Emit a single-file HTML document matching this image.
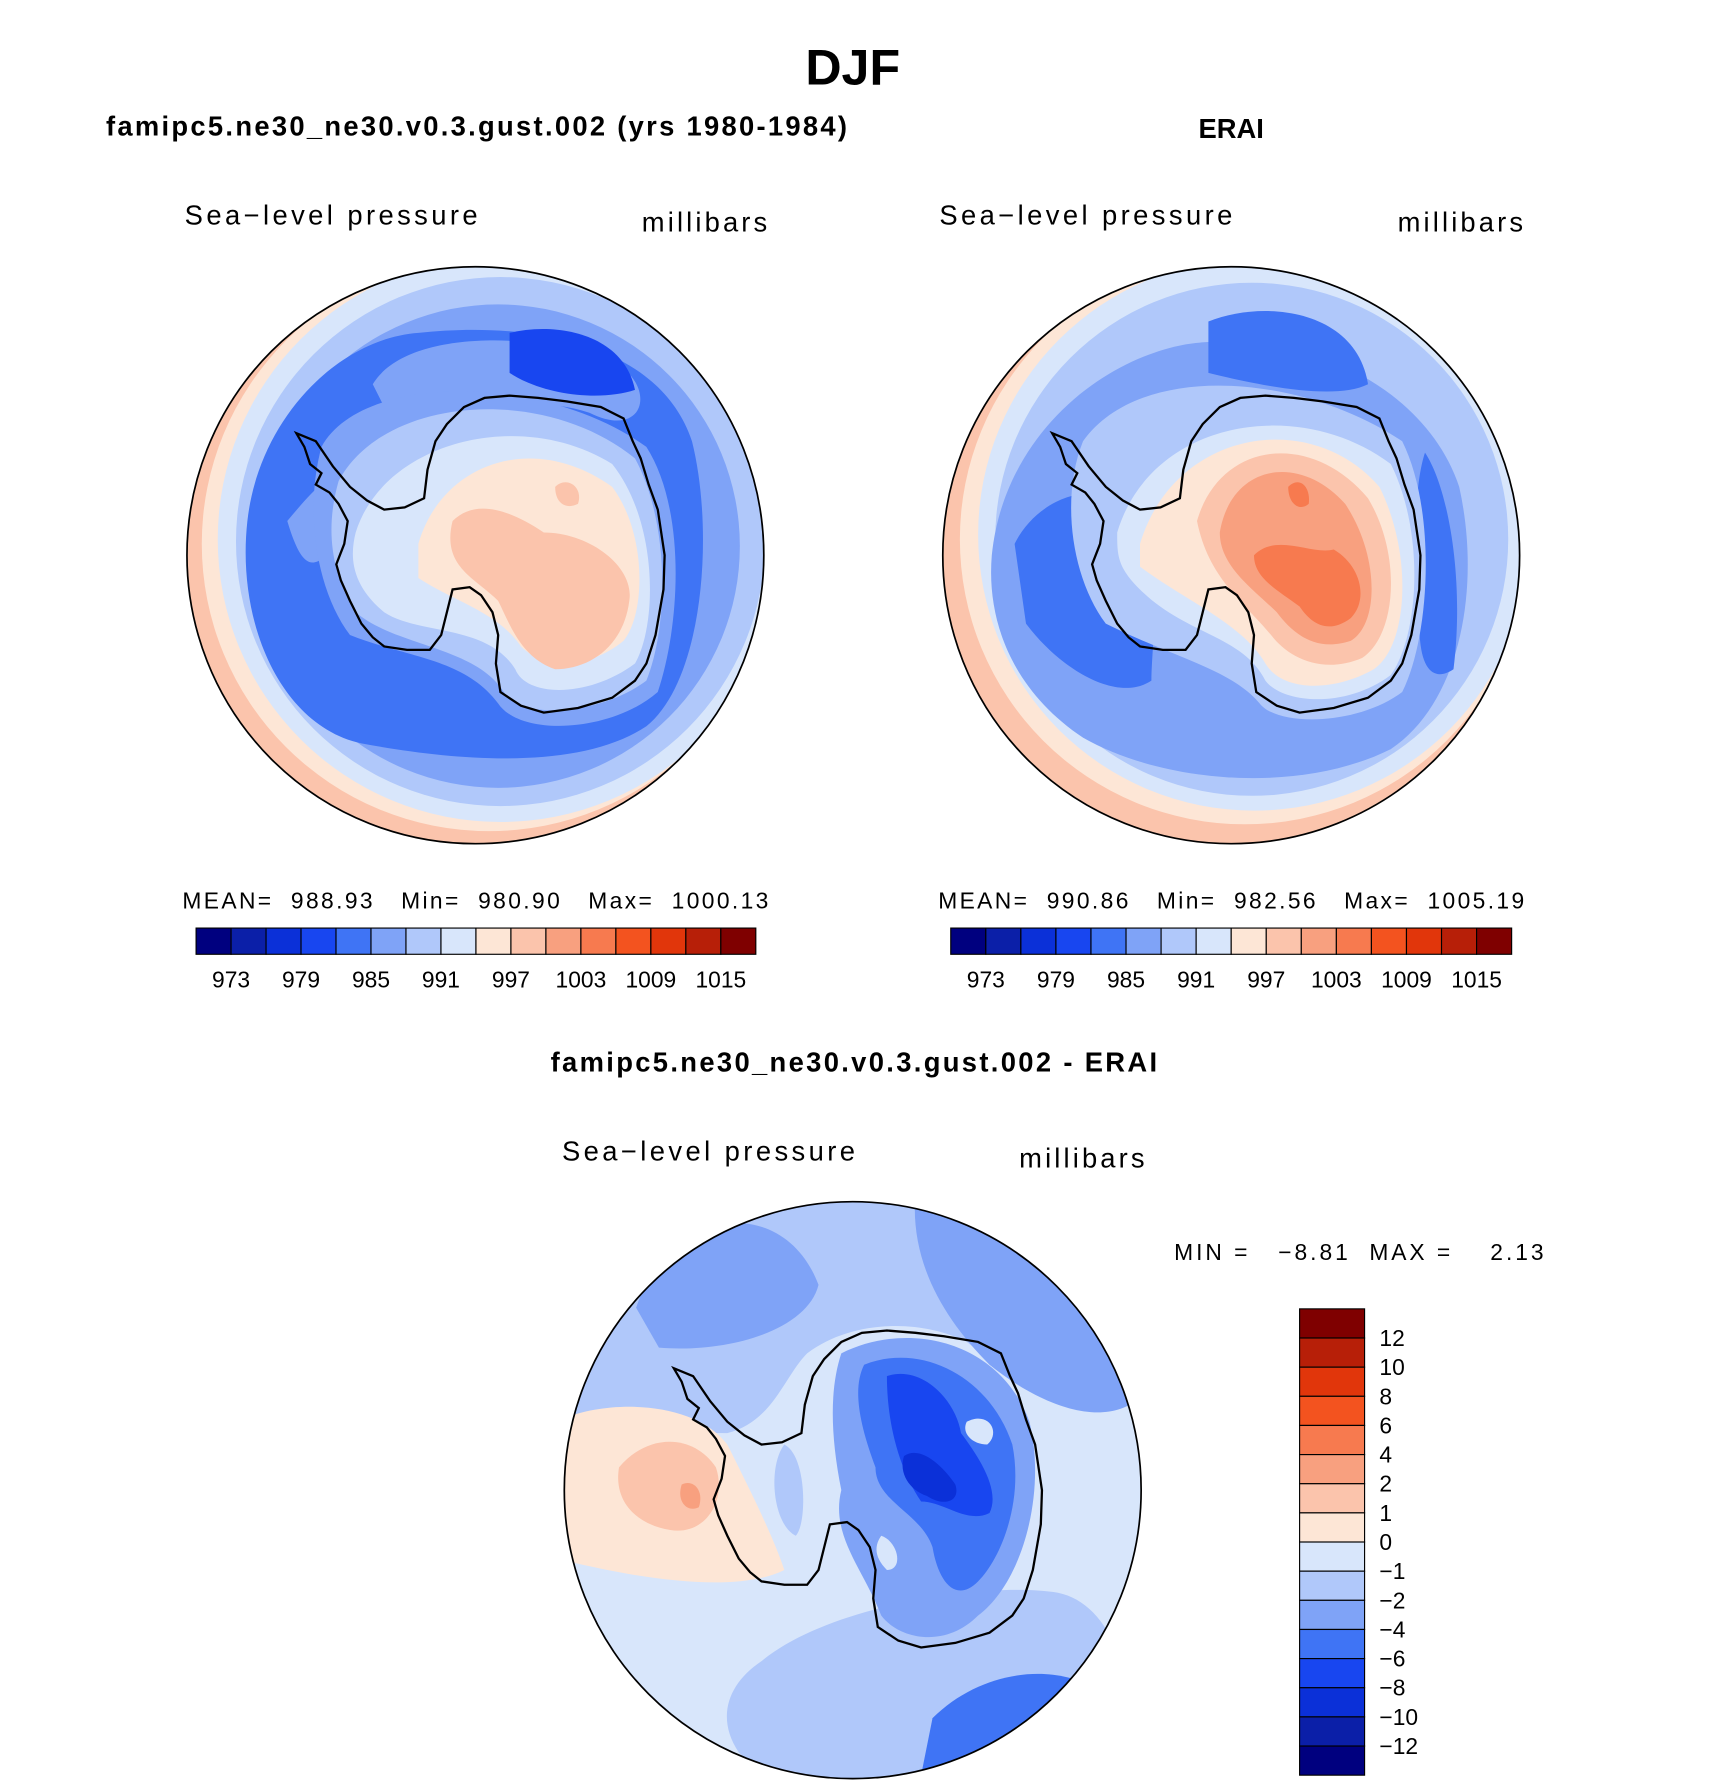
<!DOCTYPE html>
<html><head><meta charset="utf-8"><style>
html,body{margin:0;padding:0;background:#fff;}
svg{display:block;font-family:"Liberation Sans",sans-serif;}
</style></head><body>
<svg id="root" width="1710" height="1790" viewBox="0 0 1500 1570" preserveAspectRatio="none" xmlns="http://www.w3.org/2000/svg">
<defs>
<clipPath id="cl"><circle cx="0" cy="0" r="253"/></clipPath>
<path id="coast" d="M-157,-107 L-150,-95 L-145,-80 L-135,-72 L-140,-62 L-128,-55 L-120,-45 L-112,-30 L-115,-10 L-122,8 L-118,22 L-110,40 L-100,60 L-90,72 L-80,80 L-60,83 L-40,83 L-30,70 L-25,50 L-20,30 L-5,28 L5,35 L15,50 L20,70 L18,95 L22,120 L40,132 L60,138 L90,134 L120,125 L140,110 L150,95 L158,70 L165,30 L166,0 L160,-40 L152,-62 L145,-85 L138,-100 L130,-120 L110,-130 L80,-135 L55,-138 L30,-140 L8,-138 L-10,-130 L-25,-115 L-35,-100 L-42,-75 L-45,-50 L-62,-42 L-80,-40 L-95,-48 L-110,-60 L-125,-78 L-140,-100 Z"/>
</defs>
<text x="748" y="74" font-size="44" font-weight="bold" text-anchor="middle">DJF</text>
<text x="93" y="119" font-size="24" font-weight="bold" textLength="650">famipc5.ne30_ne30.v0.3.gust.002 (yrs 1980-1984)</text>
<text x="1080" y="121" font-size="24" font-weight="bold" text-anchor="middle">ERAI</text>
<text x="483" y="940" font-size="24" font-weight="bold" textLength="532">famipc5.ne30_ne30.v0.3.gust.002 - ERAI</text>

<text x="162" y="197" font-size="24" textLength="257">Sea−level pressure</text>
<text x="563" y="203" font-size="24" textLength="110">millibars</text>
<text x="824" y="197" font-size="24" textLength="257">Sea−level pressure</text>
<text x="1226" y="203" font-size="24" textLength="110">millibars</text>
<text x="493" y="1018" font-size="24" textLength="257">Sea−level pressure</text>
<text x="894" y="1024" font-size="24" textLength="110">millibars</text>
<text x="160" y="797" font-size="20" textLength="514" xml:space="preserve">MEAN=  988.93   Min=  980.90   Max=  1000.13</text>
<text x="823" y="797" font-size="20" textLength="514" xml:space="preserve">MEAN=  990.86   Min=  982.56   Max=  1005.19</text>
<text x="1030" y="1105" font-size="20" textLength="324" xml:space="preserve">MIN =   −8.81  MAX =    2.13</text>

<!-- left map -->
<g transform="translate(417,487)">
<g clip-path="url(#cl)">
<circle r="253" fill="#fbc4ac"/>
<circle cx="12" cy="-10" r="252" fill="#fde6d6"/>
<circle cx="22" cy="-14" r="248" fill="#d8e6fb"/>
<circle cx="22" cy="-12" r="232" fill="#b0c8fa"/>
<circle cx="20" cy="-8" r="212" fill="#7fa3f7"/>
<path d="M-200,-30 C-190,-120 -120,-190 -50,-195 C40,-205 160,-190 190,-100 C210,-20 200,110 150,150 C90,190 -20,180 -100,165 C-170,150 -210,60 -200,-30 Z" fill="#3f74f5"/>
<path d="M-90,-150 C-60,-200 60,-195 120,-170 C160,-150 150,-100 100,-125 C40,-145 -30,-120 -80,-130 Z" fill="#7fa3f7"/>
<path d="M-165,-30 C-140,-60 -110,-95 -90,-60 C-80,-20 -100,0 -120,-10 C-140,10 -150,20 -165,-30 Z" fill="#7fa3f7"/>
<path d="M30,-195 C70,-205 130,-195 140,-145 C110,-135 60,-140 30,-160 Z" fill="#1846f0"/>
<path d="M-135,-95 C-100,-160 60,-160 150,-95 C185,-40 180,60 160,120 C120,155 40,160 20,130 C-10,90 -60,90 -110,70 C-140,30 -150,-40 -135,-95 Z" fill="#7fa3f7"/>
<path d="M-120,-65 C-80,-140 60,-150 140,-85 C170,-30 170,60 150,110 C110,140 40,145 25,120 C0,80 -70,80 -105,50 C-130,10 -130,-30 -120,-65 Z" fill="#b0c8fa"/>
<path d="M-105,-20 C-80,-100 40,-130 120,-80 C160,-30 160,60 140,95 C100,125 45,125 35,100 C10,60 -50,70 -80,50 C-110,25 -110,0 -105,-20 Z" fill="#d8e6fb"/>
<path d="M-50,-10 C-30,-80 50,-110 120,-60 C150,-20 150,50 130,75 C100,100 60,100 40,80 C20,50 -20,40 -50,20 Z" fill="#fde6d6"/>
<path d="M-20,-30 C0,-50 30,-40 60,-20 C100,-20 140,10 135,40 C130,80 100,100 70,100 C40,90 30,60 20,40 C0,20 -30,10 -20,-30 Z" fill="#fbc4ac"/>
<path d="M70,-60 C80,-70 95,-60 90,-45 C80,-40 70,-45 70,-60 Z" fill="#fbc4ac"/>
<use href="#coast" fill="none" stroke="#000" stroke-width="2"/>
</g>
<circle r="253" fill="none" stroke="#000" stroke-width="1.5"/>
</g>

<!-- right map -->
<g transform="translate(1080,487)">
<g clip-path="url(#cl)">
<circle r="253" fill="#fbc4ac"/>
<circle cx="12" cy="-14" r="250" fill="#fde6d6"/>
<circle cx="20" cy="-18" r="242" fill="#d8e6fb"/>
<circle cx="18" cy="-14" r="225" fill="#b0c8fa"/>
<path d="M-210,0 C-200,-100 -120,-170 -40,-185 C60,-200 170,-150 200,-60 C220,30 200,130 140,170 C60,210 -60,200 -130,160 C-190,120 -215,60 -210,0 Z" fill="#7fa3f7"/>
<path d="M-190,-10 C-170,-50 -120,-70 -80,-40 C-60,20 -70,80 -70,110 C-100,130 -150,100 -180,60 Z" fill="#3f74f5"/>
<path d="M-20,-205 C30,-225 110,-215 120,-150 C90,-135 20,-150 -20,-160 Z" fill="#3f74f5"/>
<path d="M170,-90 C190,-60 205,20 195,100 C180,110 165,105 165,60 C160,0 160,-60 170,-90 Z" fill="#3f74f5"/>
<path d="M-130,-100 C-80,-170 60,-160 150,-100 C180,-40 175,70 150,120 C110,150 40,150 25,130 C0,100 -50,90 -110,60 C-140,20 -150,-50 -130,-100 Z" fill="#b0c8fa"/>
<path d="M-100,-20 C-70,-120 60,-140 140,-80 C170,-20 165,70 140,105 C100,135 45,130 30,110 C10,70 -40,70 -80,30 C-100,10 -100,0 -100,-20 Z" fill="#d8e6fb"/>
<path d="M-80,-10 C-50,-110 70,-130 130,-60 C160,0 155,80 125,100 C90,120 45,120 30,95 C10,60 -40,40 -80,10 Z" fill="#fde6d6"/>
<path d="M-30,-30 C-10,-100 70,-110 120,-50 C150,0 145,70 115,90 C80,105 50,90 35,70 C10,40 -20,20 -30,-30 Z" fill="#fbc4ac"/>
<path d="M-10,-20 C0,-80 60,-90 100,-45 C130,0 130,60 105,75 C75,85 55,70 40,50 C20,30 -10,10 -10,-20 Z" fill="#f8a07f"/>
<path d="M20,0 C40,-20 70,0 90,-5 C115,10 120,40 105,55 C85,70 70,60 60,45 C40,30 20,20 20,0 Z" fill="#f77a4f"/>
<path d="M50,-60 C60,-70 70,-60 68,-45 C60,-38 50,-45 50,-60 Z" fill="#f77a4f"/>
<use href="#coast" fill="none" stroke="#000" stroke-width="2"/>
</g>
<circle r="253" fill="none" stroke="#000" stroke-width="1.5"/>
</g>

<!-- difference map -->
<g transform="translate(748,1307)">
<g clip-path="url(#cl)">
<circle r="253" fill="#d8e6fb"/>
<path d="M-260,-260 L260,-260 L260,-80 C200,-70 150,-90 100,-130 C60,-150 0,-150 -40,-120 C-60,-100 -70,-60 -110,-50 C-170,-50 -220,-60 -260,-60 Z" fill="#b0c8fa"/>
<path d="M-190,-160 C-160,-250 -60,-260 -30,-180 C-40,-140 -110,-120 -170,-125 Z" fill="#7fa3f7"/>
<path d="M55,-260 C150,-250 240,-160 260,-90 C230,-50 170,-70 120,-110 C80,-150 50,-200 55,-260 Z" fill="#7fa3f7"/>
<path d="M-80,150 C-20,100 120,80 180,90 C230,100 260,180 220,260 C100,280 -60,270 -100,230 C-120,200 -110,170 -80,150 Z" fill="#b0c8fa"/>
<path d="M70,200 C120,150 200,150 230,190 C220,260 100,270 60,250 Z" fill="#3f74f5"/>
<path d="M-260,-60 C-220,-80 -140,-80 -110,-40 C-90,0 -70,40 -60,70 C-100,90 -180,80 -260,60 Z" fill="#fde6d6"/>
<path d="M-205,-20 C-180,-50 -140,-50 -120,-20 C-110,10 -130,40 -160,35 C-190,30 -210,10 -205,-20 Z" fill="#fbc4ac"/>
<path d="M-150,-5 C-140,-10 -130,0 -135,15 C-145,20 -155,10 -150,-5 Z" fill="#f8a07f"/>
<path d="M-10,-120 C50,-150 130,-130 155,-60 C170,0 150,80 110,110 C80,140 40,130 25,110 C10,70 -20,40 -10,0 C-20,-50 -20,-90 -10,-120 Z" fill="#7fa3f7"/>
<path d="M10,-110 C60,-130 120,-100 140,-40 C150,10 130,60 110,80 C90,100 75,80 70,50 C60,20 20,10 20,-20 C5,-60 0,-90 10,-110 Z" fill="#3f74f5"/>
<path d="M30,-100 C60,-110 90,-80 95,-50 C110,-30 130,0 120,20 C100,30 80,10 60,10 C40,-20 30,-60 30,-100 Z" fill="#1846f0"/>
<path d="M45,-30 C60,-40 80,-20 90,-5 C95,10 80,15 65,5 C50,0 40,-15 45,-30 Z" fill="#0b30d8"/>
<path d="M-60,-40 C-40,-30 -40,30 -50,40 C-70,30 -75,-20 -60,-40 Z" fill="#b0c8fa"/>
<path d="M100,-60 C120,-70 130,-50 118,-40 C105,-40 95,-50 100,-60 Z" fill="#d8e6fb"/>
<path d="M25,40 C40,45 45,70 30,70 C20,60 18,50 25,40 Z" fill="#d8e6fb"/>
<use href="#coast" fill="none" stroke="#000" stroke-width="2"/>
</g>
<circle r="253" fill="none" stroke="#000" stroke-width="1.5"/>
</g>

<g id="cbL"></g>
<g id="cbR"></g>
<g id="cbD"></g>
</svg>
<script>
const slpColors = ["#00007f","#0b1fa8","#0b30d8","#1846f0","#3f74f5","#7fa3f7","#b0c8fa","#d8e6fb","#fde6d6","#fbc4ac","#f8a07f","#f77a4f","#f3531f","#e1360b","#b71f08","#7f0000"];
const slpTickLabels = ["973","979","985","991","997","1003","1009","1015"];
const diffColors = ["#7f0000","#b71f08","#e1360b","#f3531f","#f77a4f","#f8a07f","#fbc4ac","#fde6d6","#d8e6fb","#b0c8fa","#7fa3f7","#3f74f5","#1846f0","#0b30d8","#0b1fa8","#00007f"];
const diffTickLabels = ["12","10","8","6","4","2","1","0","−1","−2","−4","−6","−8","−10","−12"];
const NS="http://www.w3.org/2000/svg";
function hbar(g, x0, x1, y0, y1){
  const w=(x1-x0)/slpColors.length;
  slpColors.forEach((c,i)=>{
    const r=document.createElementNS(NS,'rect');
    r.setAttribute('x',x0+i*w);r.setAttribute('y',y0);r.setAttribute('width',w);r.setAttribute('height',y1-y0);
    r.setAttribute('fill',c);r.setAttribute('stroke','#000');r.setAttribute('stroke-width','1');
    
    
    g.appendChild(r);
  });
  slpTickLabels.forEach((t,i)=>{
    const tx=document.createElementNS(NS,'text');
    tx.setAttribute('x',x0+(1+2*i)*w);tx.setAttribute('y',866);tx.setAttribute('font-size','20');tx.setAttribute('text-anchor','middle');
    tx.textContent=t;
    
    
    g.appendChild(tx);
  });
}
hbar(document.getElementById('cbL'),172,663,814,837);
hbar(document.getElementById('cbR'),834,1326,814,837);
(function(){
  const g=document.getElementById('cbD');
  const y0=1148,y1=1557,h=(y1-y0)/diffColors.length;
  diffColors.forEach((c,i)=>{
    const r=document.createElementNS(NS,'rect');
    r.setAttribute('x',1140);r.setAttribute('y',y0+i*h);r.setAttribute('width',57);r.setAttribute('height',h);
    r.setAttribute('fill',c);r.setAttribute('stroke','#000');r.setAttribute('stroke-width','1');
    
    
    g.appendChild(r);
  });
  diffTickLabels.forEach((t,i)=>{
    const tx=document.createElementNS(NS,'text');
    tx.setAttribute('x',1210);tx.setAttribute('y',y0+(i+1)*h+7);tx.setAttribute('font-size','20');
    tx.textContent=t;
    
    
    g.appendChild(tx);
  });
})();
</script>
</body></html>
